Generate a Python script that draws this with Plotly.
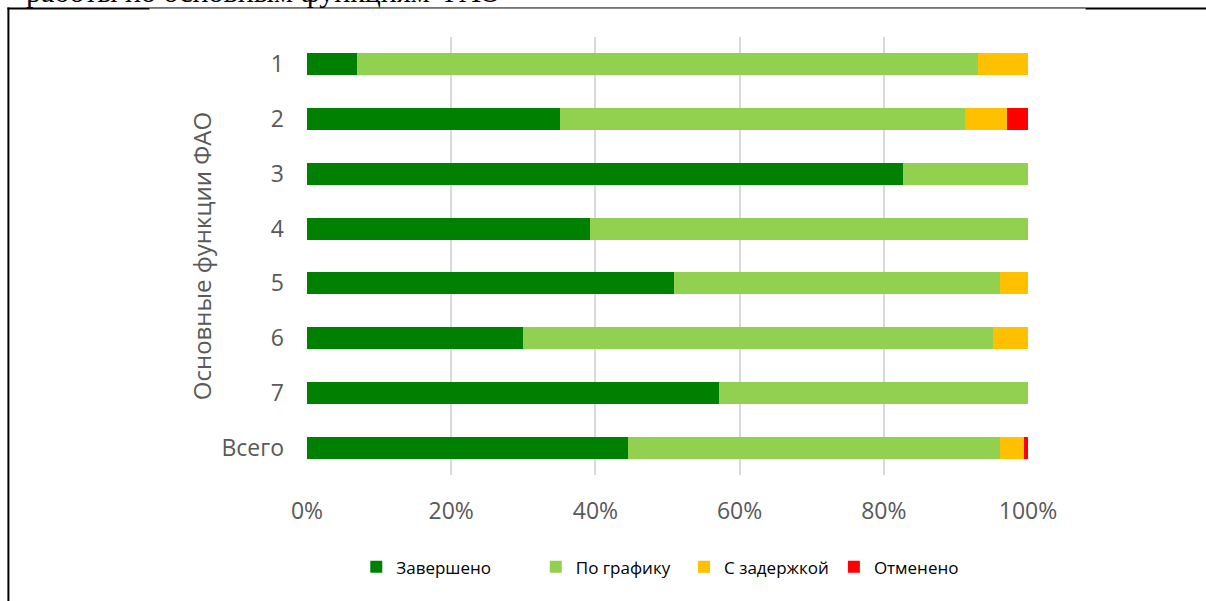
import plotly.graph_objects as go

categories = ["1", "2", "3", "4", "5", "6", "7", "Всего"]
completed = [7.0, 35.1, 82.6, 39.3, 50.9, 30.0, 57.1, 44.5]
on_track = [86.0, 56.1, 17.4, 60.7, 45.2, 65.1, 42.9, 51.6]
delayed = [7.0, 5.9, 0.0, 0.0, 3.9, 4.9, 0.0, 3.4]
cancelled = [0.0, 2.9, 0.0, 0.0, 0.0, 0.0, 0.0, 0.5]

series_names = ["Завершено", "По графику", "С задержкой", "Отменено"]
series_colors = ["#008000", "#92D050", "#FFC000", "#FF0000"]
x_ticks = [0, 20, 40, 60, 80, 100]
x_tick_labels = ["0%", "20%", "40%", "60%", "80%", "100%"]
y_title = "Основные функции ФАО"
top_text = "работы по основным функциям ФАО"

# trailing padding (non-breaking spaces) to reproduce legend item spacing
legend_pad = [9, 2, 0, 0]

W, H = 1206, 601
L, R = 307.3, 1027.6
T, B = 36.6, 475.5


def px(xp):
    return (xp - L) / (R - L)


def py(yp):
    return (B - yp) / (B - T)


fig = go.Figure()
for name, vals, col, pad in zip(series_names, [completed, on_track, delayed, cancelled],
                                series_colors, legend_pad):
    fig.add_trace(go.Bar(
        y=categories, x=vals, name=name + "\u00a0" * pad, orientation="h",
        marker=dict(color=col, line=dict(width=0)),
        width=0.4,
    ))

fig.update_layout(
    barmode="stack",
    width=W, height=H,
    margin=dict(l=L, r=W - R, t=T, b=H - B, autoexpand=False),
    paper_bgcolor="white", plot_bgcolor="white",
    font=dict(family="Open Sans", color="#595959"),
    showlegend=True,
    legend=dict(
        orientation="h", x=0.49, xanchor="center", y=py(568), yanchor="middle",
        font=dict(size=17, color="#000000"), itemwidth=30,
        traceorder="normal", itemclick=False,
    ),
    xaxis=dict(
        range=[0, 100], tickvals=x_ticks, ticktext=x_tick_labels,
        showgrid=True, gridcolor="#D9D9D9", gridwidth=1.5,
        zeroline=False, showline=False,
        tickfont=dict(size=23, color="#595959"),
        ticklabelstandoff=20,
    ),
    yaxis=dict(
        categoryorder="array", categoryarray=categories, autorange="reversed",
        showgrid=False, zeroline=False, showline=False,
        tickfont=dict(size=23, color="#595959"),
        ticklabelstandoff=22,
        title=dict(text=y_title, font=dict(size=24, color="#595959"), standoff=3),
    ),
    shapes=[
        dict(type="line", xref="paper", yref="paper", x0=px(9), x1=px(9), y0=py(7), y1=py(605),
             line=dict(color="black", width=2)),
        dict(type="line", xref="paper", yref="paper", x0=px(8), x1=px(150), y0=py(8), y1=py(8),
             line=dict(color="black", width=2)),
        dict(type="line", xref="paper", yref="paper", x0=px(150), x1=px(1085), y0=py(7.5), y1=py(7.5),
             line=dict(color="black", width=1)),
        dict(type="line", xref="paper", yref="paper", x0=px(1085), x1=px(1210), y0=py(8), y1=py(8),
             line=dict(color="black", width=2)),
    ],
    annotations=[
        dict(text=top_text, xref="paper", yref="paper", x=px(25), y=py(10), xanchor="left",
             yanchor="bottom", showarrow=False,
             font=dict(family="Liberation Serif", size=30, color="black")),
    ],
)

fig.write_html(
    "out.html",
    config={"displayModeBar": False},
    post_script="document.body.style.margin='0px';document.body.style.overflow='hidden';",
)
